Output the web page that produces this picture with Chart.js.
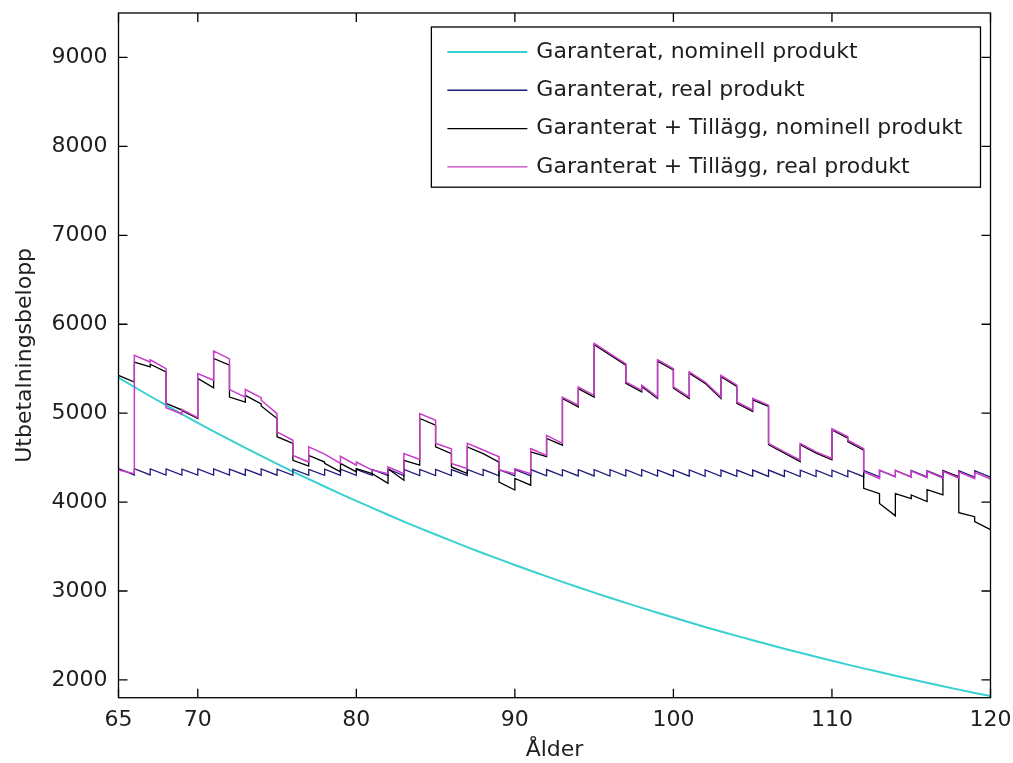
<!DOCTYPE html>
<html lang="sv">
<head>
<meta charset="utf-8">
<title>Utbetalningsbelopp per ålder</title>
<script src="https://cdn.jsdelivr.net/npm/chart.js@4/dist/chart.umd.min.js"></script>
<style>
  html, body { margin: 0; padding: 0; background: #fff; }
  #wrap { width: 1013px; height: 763px; }
</style>
</head>
<body>
<div id="wrap"><canvas id="graf" width="1013" height="763"></canvas></div>
<script>
// --- Data ---
// Åldrar där ett nytt utbetalningsår börjar (65..119)
const aldrar = [65, 66, 67, 68, 69, 70, 71, 72, 73, 74, 75, 76, 77, 78, 79, 80, 81, 82, 83, 84,
  85, 86, 87, 88, 89, 90, 91, 92, 93, 94, 95, 96, 97, 98, 99, 100, 101, 102, 103, 104,
  105, 106, 107, 108, 109, 110, 111, 112, 113, 114, 115, 116, 117, 118, 119];

// Garanterat, nominell produkt (ett värde per år, 65..120)
const nominellAldrar = [65, 66, 67, 68, 69, 70, 71, 72, 73, 74, 75, 76, 77, 78, 79, 80, 81, 82, 83, 84,
  85, 86, 87, 88, 89, 90, 91, 92, 93, 94, 95, 96, 97, 98, 99, 100, 101, 102, 103, 104,
  105, 106, 107, 108, 109, 110, 111, 112, 113, 114, 115, 116, 117, 118, 119, 120];
const garNominell = [5400, 5294, 5190, 5089, 4989, 4891, 4795, 4701, 4609, 4519, 4430, 4343, 4258, 4175, 4093, 4013,
  3934, 3857, 3781, 3707, 3635, 3563, 3494, 3425, 3358, 3292, 3228, 3165, 3102, 3042, 2982, 2924,
  2866, 2810, 2755, 2701, 2648, 2596, 2545, 2495, 2446, 2398, 2351, 2305, 2260, 2216, 2172, 2130,
  2088, 2047, 2007, 1968, 1929, 1891, 1854, 1818];

// Garanterat, real produkt: värde i början resp. slutet av varje år
const garRealStart = [4375, 4375, 4372, 4372, 4370, 4372, 4372, 4370, 4370, 4372, 4370, 4370, 4368, 4370, 4370, 4368,
  4368, 4370, 4368, 4368, 4368, 4366, 4368, 4366, 4366, 4366, 4366, 4366, 4365, 4365, 4365, 4364,
  4364, 4364, 4362, 4362, 4362, 4362, 4360, 4360, 4360, 4360, 4358, 4358, 4358, 4358, 4356, 4356,
  4356, 4355, 4355, 4354, 4354, 4352, 4352];
const garRealSlut = [4305, 4305, 4304, 4304, 4303, 4303, 4303, 4302, 4302, 4302, 4301, 4301, 4300, 4300, 4300, 4300,
  4299, 4299, 4298, 4298, 4298, 4297, 4297, 4296, 4296, 4296, 4295, 4295, 4294, 4294, 4293, 4293,
  4292, 4292, 4291, 4291, 4290, 4290, 4289, 4289, 4288, 4288, 4287, 4286, 4286, 4285, 4285, 4284,
  4284, 4283, 4283, 4282, 4281, 4281, 4280];

// Garanterat + Tillägg, nominell produkt
const tillNominellStart = [5425, 5575, 5550, 5110, 5030, 5390, 5615, 5180, 5200, 5080, 4735, 4470, 4525, 4435, 4435, 4375,
  4320, 4375, 4470, 4940, 4620, 4395, 4620, 4545, 4225, 4265, 4565, 4715, 5165, 5275, 5770, 5655,
  5335, 5300, 5585, 5280, 5450, 5335, 5410, 5110, 5150, 4645, 4550, 4645, 4550, 4810, 4680, 4155,
  3985, 4095, 4080, 4140, 4350, 3880, 3780];
const tillNominellSlut = [5350, 5520, 5465, 5035, 4940, 5285, 5540, 5125, 5105, 4940, 4660, 4405, 4450, 4340, 4340, 4320,
  4210, 4245, 4415, 4865, 4545, 4320, 4545, 4450, 4135, 4190, 4510, 4640, 5070, 5180, 5655, 5540,
  5240, 5165, 5485, 5165, 5335, 5165, 5300, 5020, 5075, 4550, 4455, 4550, 4475, 4720, 4585, 4095,
  3845, 4040, 4005, 4080, 4285, 3835, 3690];

// Garanterat + Tillägg, real produkt
const tillRealStart = [4360, 5650, 5600, 5060, 5040, 5445, 5700, 5265, 5265, 5145, 4790, 4525, 4620, 4540, 4515, 4450,
  4360, 4395, 4545, 4995, 4660, 4435, 4660, 4585, 4360, 4375, 4600, 4750, 5180, 5295, 5785, 5670,
  5350, 5315, 5600, 5295, 5465, 5350, 5425, 5125, 5165, 4660, 4565, 4660, 4565, 4825, 4695, 4340,
  4360, 4355, 4350, 4345, 4345, 4340, 4335];
const tillRealSlut = [4320, 5575, 5500, 4990, 4950, 5370, 5610, 5180, 5175, 4995, 4695, 4450, 4540, 4435, 4415, 4360,
  4320, 4320, 4480, 4920, 4600, 4375, 4585, 4510, 4320, 4320, 4525, 4660, 5090, 5200, 5670, 5555,
  5255, 5180, 5500, 5180, 5350, 5180, 5315, 5035, 5090, 4565, 4470, 4565, 4490, 4735, 4600, 4265,
  4285, 4280, 4275, 4270, 4270, 4265, 4260];

// Axlar
const xTicks = [65, 70, 80, 90, 100, 110, 120];
const yTicks = [2000, 3000, 4000, 5000, 6000, 7000, 8000, 9000];

const etiketter = [
  "Garanterat, nominell produkt",
  "Garanterat, real produkt",
  "Garanterat + Tillägg, nominell produkt",
  "Garanterat + Tillägg, real produkt",
];
const farger = ["#38d0d0", "#1c1c78", "#000000", "#c83cc8"];

// Bygger trappstegskurva: varje år en linje från start till slut, hopp vid nästa år.
function trappa(starts, slut) {
  const pts = [];
  aldrar.forEach((a, i) => {
    pts.push({ x: a, y: starts[i] });
    pts.push({ x: a + 1, y: slut[i] });
  });
  return pts;
}

const FONT = "'DejaVu Sans', Verdana, sans-serif";
const TEXT = "#1e1e1e";

// Ram runt ritytan med inåtriktade streck (som i MATLAB)
const ramPlugin = {
  id: "ram",
  afterDraw(chart) {
    const { ctx, chartArea: ca, scales } = chart;
    const L = 9;
    ctx.save();
    ctx.strokeStyle = "#000";
    ctx.lineWidth = 1.3;
    ctx.strokeRect(ca.left, ca.top, ca.right - ca.left, ca.bottom - ca.top);
    ctx.beginPath();
    xTicks.forEach((v) => {
      const px = scales.x.getPixelForValue(v);
      ctx.moveTo(px, ca.bottom);
      ctx.lineTo(px, ca.bottom - L);
      ctx.moveTo(px, ca.top);
      ctx.lineTo(px, ca.top + L);
    });
    yTicks.forEach((v) => {
      const py = scales.y.getPixelForValue(v);
      ctx.moveTo(ca.left, py);
      ctx.lineTo(ca.left + L, py);
      ctx.moveTo(ca.right, py);
      ctx.lineTo(ca.right - L, py);
    });
    ctx.stroke();

    // Legend uppe till höger
    ctx.font = "22px " + FONT;
    const radH = 38.3;
    const linjeL = 80;
    const gap = 9;
    const bredd = Math.max(...etiketter.map((t) => ctx.measureText(t).width));
    const boxW = 16 + linjeL + gap + bredd + 18;
    const boxH = radH * etiketter.length + 7;
    const bx = ca.right - 10 - boxW;
    const by = ca.top + 14;
    ctx.fillStyle = "#fff";
    ctx.fillRect(bx, by, boxW, boxH);
    ctx.strokeStyle = "#000";
    ctx.lineWidth = 1.3;
    ctx.strokeRect(bx, by, boxW, boxH);
    ctx.textBaseline = "middle";
    ctx.textAlign = "left";
    etiketter.forEach((t, i) => {
      const cy = by + 25 + i * radH;
      ctx.strokeStyle = farger[i];
      ctx.lineWidth = i === 0 ? 2 : 1.4;
      ctx.beginPath();
      ctx.moveTo(bx + 16, cy);
      ctx.lineTo(bx + 16 + linjeL, cy);
      ctx.stroke();
      ctx.fillStyle = TEXT;
      ctx.fillText(t, bx + 16 + linjeL + gap, cy);
    });
    ctx.restore();
  },
};

new Chart(document.getElementById("graf"), {
  type: "line",
  data: {
    datasets: [
      {
        label: etiketter[0],
        data: nominellAldrar.map((a, i) => ({ x: a, y: garNominell[i] })),
        borderColor: farger[0],
        borderWidth: 2,
        order: 4,
      },
      {
        label: etiketter[1],
        data: trappa(garRealStart, garRealSlut),
        borderColor: farger[1],
        borderWidth: 1.3,
        order: 3,
      },
      {
        label: etiketter[2],
        data: trappa(tillNominellStart, tillNominellSlut),
        borderColor: farger[2],
        borderWidth: 1.3,
        order: 2,
      },
      {
        label: etiketter[3],
        data: trappa(tillRealStart, tillRealSlut),
        borderColor: farger[3],
        borderWidth: 1.5,
        order: 1,
      },
    ],
  },
  options: {
    responsive: false,
    animation: false,
    elements: { point: { radius: 0 }, line: { tension: 0, fill: false } },
    layout: { padding: { left: 0, right: 22.5, top: 13, bottom: 0 } },
    plugins: { legend: { display: false }, tooltip: { enabled: false } },
    scales: {
      x: {
        type: "linear",
        min: 65,
        max: 120,
        afterBuildTicks: (s) => { s.ticks = xTicks.map((v) => ({ value: v })); },
        afterFit: (s) => { s.height = 65.3; s.paddingLeft = 0; s.paddingRight = 0; },
        grid: { display: false, drawTicks: false },
        border: { display: false },
        ticks: { color: TEXT, font: { family: FONT, size: 22 }, padding: 9, maxRotation: 0, autoSkip: false,
          callback: (v) => String(v) },
        title: { display: true, text: "Ålder", color: TEXT, font: { family: FONT, size: 22 }, padding: { top: 0, bottom: 0 } },
      },
      y: {
        min: 1800,
        max: 9500,
        afterBuildTicks: (s) => { s.ticks = yTicks.map((v) => ({ value: v })); },
        afterFit: (s) => { s.width = 118.5; s.paddingTop = 0; s.paddingBottom = 0; },
        grid: { display: false, drawTicks: false },
        border: { display: false },
        ticks: { color: TEXT, font: { family: FONT, size: 22 }, padding: 11, callback: (v) => String(v) },
        title: { display: true, text: "Utbetalningsbelopp", color: TEXT, font: { family: FONT, size: 22 }, padding: { top: 12, bottom: 0 } },
      },
    },
  },
  plugins: [ramPlugin],
});
</script>
</body>
</html>
